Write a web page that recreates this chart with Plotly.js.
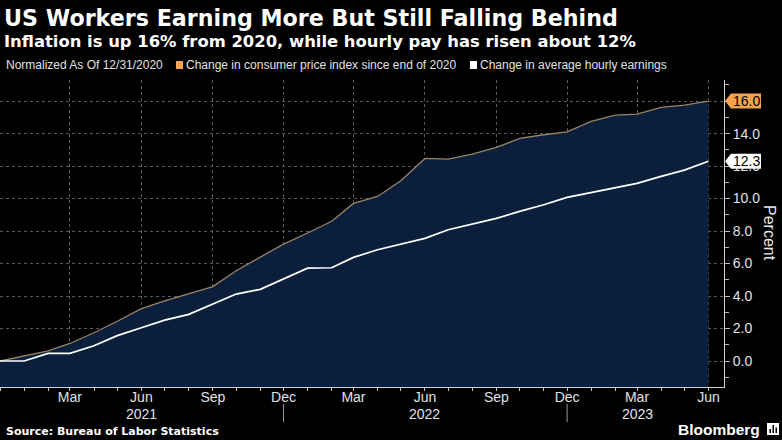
<!DOCTYPE html>
<html>
<head>
<meta charset="utf-8">
<script src="https://cdn.plot.ly/plotly-3.0.1.min.js"></script>
<style>html,body{margin:0;padding:0;background:#000;}#chart{width:782px;height:440px;}</style>
</head>
<body>
<div id="chart"></div>
<script>
// ---- data ----
const months = ['2020-12-01','2021-01-01','2021-02-01','2021-03-01','2021-04-01','2021-05-01','2021-06-01','2021-07-01','2021-08-01','2021-09-01','2021-10-01','2021-11-01',
  '2021-12-01','2022-01-01','2022-02-01','2022-03-01','2022-04-01','2022-05-01','2022-06-01','2022-07-01','2022-08-01','2022-09-01','2022-10-01','2022-11-01',
  '2022-12-01','2023-01-01','2023-02-01','2023-03-01','2023-04-01','2023-05-01','2023-06-01'];
const cpi = [0, 0.3, 0.63, 1.08, 1.74, 2.45, 3.22, 3.7, 4.12, 4.58, 5.56, 6.42,
  7.2, 7.88, 8.6, 9.7, 10.13, 11.1, 12.47, 12.43, 12.74, 13.15, 13.7, 13.93,
  14.11, 14.75, 15.14, 15.2, 15.61, 15.75, 16.0];
const ahe = [0, 0.0, 0.47, 0.47, 0.94, 1.56, 2.05, 2.52, 2.87, 3.5, 4.12, 4.41,
  5.05, 5.72, 5.74, 6.38, 6.85, 7.2, 7.55, 8.08, 8.43, 8.78, 9.21, 9.62,
  10.07, 10.38, 10.69, 10.94, 11.37, 11.75, 12.3];
const xTickVals = ['2021-03-01','2021-06-01','2021-09-01','2021-12-01','2022-03-01','2022-06-01','2022-09-01','2022-12-01','2023-03-01','2023-06-01'];
const xTickText = ['Mar','Jun','Sep','Dec','Mar','Jun','Sep','Dec','Mar','Jun'];
const yearLabelDates = ['2021-06-01','2022-06-01','2023-03-01'];
const yearLabels = ['2021','2022','2023'];
const yTickVals = [0,2,4,6,8,10,12,14,16];
const yMinorVals = [-1,1,3,5,7,9,11,13,15,17];
const yearBreaks = ['2021-12-01','2022-12-01'];
const seriesNames = ['Change in consumer price index since end of 2020','Change in average hourly earnings'];
const noteText = 'Normalized As Of 12/31/2020';

// ---- layout geometry ----
const W = 782, H = 440, L = 0, R = 58, T = 80, B = 53;
const PW = W - L - R, PH = H - T - B;
const YMIN = -1.6, YMAX = 17.3;
const px = x => (x - L) / PW;
const py = y => (H - B - y) / PH;

const CPI_LINE = '#9a8463', FILL = '#0b1f3d', ORANGE = '#f5a44e';
const lastCpi = cpi[cpi.length - 1], lastAhe = ahe[ahe.length - 1];

const traces = [
  {x: months, y: months.map(() => YMIN), type: 'scatter', mode: 'lines', line: {width: 0}, hoverinfo: 'skip', showlegend: false},
  {x: months, y: cpi, type: 'scatter', mode: 'lines', name: seriesNames[0], fill: 'tonexty', fillcolor: FILL, line: {color: CPI_LINE, width: 1.3}, showlegend: false},
  {x: months, y: ahe, type: 'scatter', mode: 'lines', name: seriesNames[1], line: {color: '#ffffff', width: 1.7}, showlegend: false}
];

function pathPx(pts) { return 'M' + pts.map(p => px(p[0]).toFixed(5) + ',' + py(p[1]).toFixed(5)).join(' L') + ' Z'; }
function yPix(v) { return (H - B) - (v - YMIN) / (YMAX - YMIN) * PH; }

function tag(v, bg) {
  const yc = yPix(v);
  return {type: 'path', xref: 'paper', yref: 'paper', path: pathPx([[725, yc], [731, yc - 7.5], [761, yc - 7.5], [761, yc + 7.5], [731, yc + 7.5]]), fillcolor: bg, line: {width: 0}, layer: 'above'};
}

const shapes = [
  tag(lastCpi, ORANGE), tag(lastAhe, '#ffffff'),
  // legend squares
  {type: 'rect', xref: 'paper', yref: 'paper', x0: px(176), x1: px(183), y0: py(69), y1: py(61), fillcolor: ORANGE, line: {width: 0}},
  {type: 'rect', xref: 'paper', yref: 'paper', x0: px(470), x1: px(477), y0: py(69), y1: py(61), fillcolor: '#ffffff', line: {width: 0}},
  // bloomberg icon
  {type: 'rect', xref: 'paper', yref: 'paper', x0: px(767), x1: px(779), y0: py(435), y1: py(423), fillcolor: '#ffffff', line: {width: 0}},
  {type: 'rect', xref: 'paper', yref: 'paper', x0: px(769.5), x1: px(771), y0: py(433), y1: py(429), fillcolor: '#000', line: {width: 0}},
  {type: 'rect', xref: 'paper', yref: 'paper', x0: px(772.5), x1: px(774), y0: py(433), y1: py(425), fillcolor: '#000', line: {width: 0}},
  {type: 'rect', xref: 'paper', yref: 'paper', x0: px(775.5), x1: px(777), y0: py(433), y1: py(427.5), fillcolor: '#000', line: {width: 0}}
];
yearBreaks.forEach(d => shapes.push({type: 'line', xref: 'x', yref: 'paper', x0: d, x1: d, y0: py(404), y1: py(422), line: {color: '#999999', width: 1}}));

const annotations = [
  {xref: 'paper', yref: 'paper', x: px(2), y: py(18), xanchor: 'left', yanchor: 'middle', showarrow: false, text: '<b>US Workers Earning More But Still Falling Behind</b>', font: {family: 'DejaVu Sans', size: 22.2, color: '#ffffff'}},
  {xref: 'paper', yref: 'paper', x: px(2), y: py(42), xanchor: 'left', yanchor: 'middle', showarrow: false, text: '<b>Inflation is up 16% from 2020, while hourly pay has risen about 12%</b>', font: {family: 'DejaVu Sans', size: 16.4, color: '#ffffff'}},
  {xref: 'paper', yref: 'paper', x: px(4), y: py(65), xanchor: 'left', yanchor: 'middle', showarrow: false, text: noteText, font: {family: 'Liberation Sans', size: 12, color: '#e0e0e0'}},
  {xref: 'paper', yref: 'paper', x: px(184), y: py(65), xanchor: 'left', yanchor: 'middle', showarrow: false, text: seriesNames[0], font: {family: 'Liberation Sans', size: 12, color: '#e0e0e0'}},
  {xref: 'paper', yref: 'paper', x: px(478), y: py(65), xanchor: 'left', yanchor: 'middle', showarrow: false, text: seriesNames[1], font: {family: 'Liberation Sans', size: 12, color: '#e0e0e0'}},
  {xref: 'paper', yref: 'paper', x: px(770), y: py(233), xanchor: 'center', yanchor: 'middle', showarrow: false, textangle: 90, text: 'Percent', font: {family: 'Liberation Sans', size: 16, color: '#e8e8e8'}},
  {xref: 'paper', yref: 'y', x: px(746), y: lastCpi, xanchor: 'center', yanchor: 'middle', showarrow: false, text: lastCpi.toFixed(1), font: {family: 'Liberation Sans', size: 14, color: '#000'}},
  {xref: 'paper', yref: 'y', x: px(746), y: lastAhe, xanchor: 'center', yanchor: 'middle', showarrow: false, text: lastAhe.toFixed(1), font: {family: 'Liberation Sans', size: 14, color: '#000'}},
  {xref: 'paper', yref: 'paper', x: px(4), y: py(431.5), xanchor: 'left', yanchor: 'middle', showarrow: false, text: '<b>Source: Bureau of Labor Statistics</b>', font: {family: 'DejaVu Sans', size: 11, color: '#ffffff'}},
  {xref: 'paper', yref: 'paper', x: px(762), y: py(429.5), xanchor: 'right', yanchor: 'middle', showarrow: false, text: '<b>Bloomberg</b>', font: {family: 'Liberation Sans', size: 15.5, color: '#ffffff'}}
];
yearLabelDates.forEach((d, i) => annotations.push({xref: 'x', yref: 'paper', x: d, y: py(414), xanchor: 'center', yanchor: 'middle', showarrow: false, text: yearLabels[i], font: {family: 'Liberation Sans', size: 14, color: '#e0e0e0'}}));

const layout = {
  width: W, height: H,
  margin: {l: L, r: R, t: T, b: B},
  paper_bgcolor: '#000', plot_bgcolor: '#000',
  showlegend: false,
  xaxis: {
    type: 'date', range: ['2020-12-01', '2023-06-21'],
    tickmode: 'array', tickvals: xTickVals, ticktext: xTickText,
    ticks: 'outside', ticklen: 3, tickcolor: '#bbbbbb', ticklabelstandoff: -6,
    showgrid: true, gridcolor: '#5a5a5a', griddash: 'dot', gridwidth: 1,
    showline: true, linecolor: '#cccccc', linewidth: 1,
    zeroline: false,
    tickfont: {family: 'Liberation Sans', size: 14, color: '#e0e0e0'},
    minor: {tickmode: 'array', tickvals: months, ticks: 'outside', ticklen: 3, tickcolor: '#bbbbbb', showgrid: false}
  },
  yaxis: {
    side: 'right', range: [YMIN, YMAX],
    tickmode: 'array', tickvals: yTickVals, ticktext: yTickVals.map(v => v.toFixed(1)),
    ticks: 'outside', ticklen: 5, tickcolor: '#bbbbbb',
    showgrid: true, gridcolor: '#5a5a5a', griddash: 'dot', gridwidth: 1,
    showline: true, linecolor: '#cccccc', linewidth: 1,
    zeroline: false,
    tickfont: {family: 'Liberation Sans', size: 14, color: '#e0e0e0'},
    minor: {tickmode: 'array', tickvals: yMinorVals, ticks: 'outside', ticklen: 4, tickcolor: '#bbbbbb', showgrid: false}
  },
  shapes: shapes,
  annotations: annotations
};

Plotly.newPlot('chart', traces, layout, {displayModeBar: false, staticPlot: true});
</script>
</body>
</html>
